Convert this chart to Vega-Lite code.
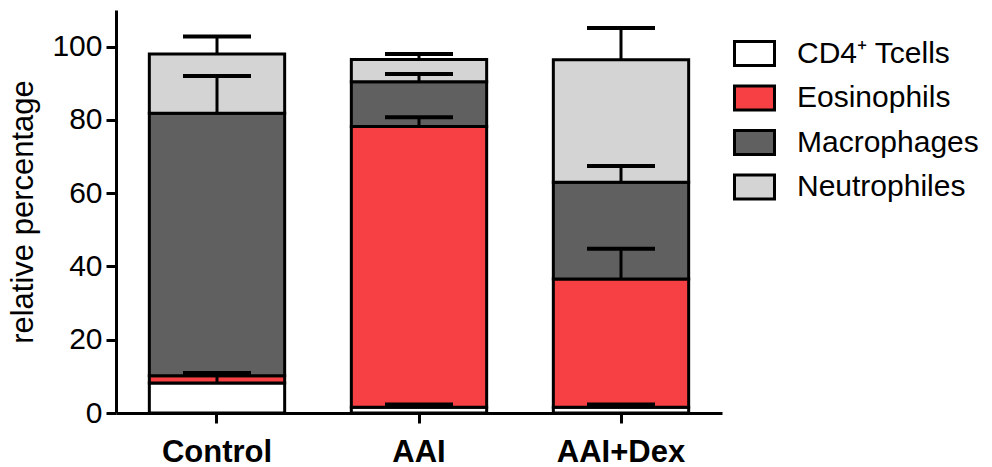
{
  "$schema": "https://vega.github.io/schema/vega-lite/v6.json",
  "autosize": {"type": "none"},
  "padding": {"left": 116, "top": 10, "right": 270, "bottom": 54},
  "width": 606,
  "height": 403,
  "background": "white",
  "config": {
    "view": {"stroke": null},
    "font": "Liberation Sans",
    "axis": {"domainColor": "black", "domainWidth": 3, "tickColor": "black", "tickWidth": 3, "tickSize": 10, "labelColor": "black", "titleColor": "black", "grid": false}
  },
  "data": {
    "values": [
      {"group": "Control", "cell": "CD4⁺ Tcells", "ord": 1, "value": 8.2, "upper": 10.4},
      {"group": "Control", "cell": "Eosinophils", "ord": 2, "value": 2.0, "upper": 10.9},
      {"group": "Control", "cell": "Macrophages", "ord": 3, "value": 71.6, "upper": 92.0},
      {"group": "Control", "cell": "Neutrophiles", "ord": 4, "value": 16.2, "upper": 102.8},
      {"group": "AAI", "cell": "CD4⁺ Tcells", "ord": 1, "value": 1.6, "upper": 2.3},
      {"group": "AAI", "cell": "Eosinophils", "ord": 2, "value": 76.6, "upper": 80.7},
      {"group": "AAI", "cell": "Macrophages", "ord": 3, "value": 12.2, "upper": 92.5},
      {"group": "AAI", "cell": "Neutrophiles", "ord": 4, "value": 6.1, "upper": 98.0},
      {"group": "AAI+Dex", "cell": "CD4⁺ Tcells", "ord": 1, "value": 1.6, "upper": 2.3},
      {"group": "AAI+Dex", "cell": "Eosinophils", "ord": 2, "value": 35.0, "upper": 44.8},
      {"group": "AAI+Dex", "cell": "Macrophages", "ord": 3, "value": 26.4, "upper": 67.4},
      {"group": "AAI+Dex", "cell": "Neutrophiles", "ord": 4, "value": 33.4, "upper": 105.1}
    ]
  },
  "transform": [
    {"stack": "value", "groupby": ["group"], "sort": [{"field": "ord", "order": "ascending"}], "as": ["y0", "y1"]}
  ],
  "encoding": {
    "x": {
      "field": "group", "type": "nominal", "sort": ["Control", "AAI", "AAI+Dex"],
      "scale": {"paddingInner": 0.33, "paddingOuter": 0.165},
      "axis": {"title": null, "labelAngle": 0, "labelFontSize": 31, "labelFontWeight": "bold", "labelPadding": 14, "domainWidth": 3}
    }
  },
  "layer": [
    {
      "mark": {"type": "bar", "stroke": "black", "strokeWidth": 3, "strokeJoin": "miter"},
      "encoding": {
        "y": {
          "field": "y0", "type": "quantitative",
          "scale": {"domain": [0, 110], "nice": false},
          "axis": {"title": "relative percentage", "titleFontSize": 31, "titleFontWeight": "normal", "titlePadding": 12, "labelFontSize": 30, "labelPadding": 4, "values": [0, 20, 40, 60, 80, 100]}
        },
        "y2": {"field": "y1"},
        "fill": {
          "field": "cell", "type": "nominal",
          "scale": {"domain": ["CD4⁺ Tcells", "Eosinophils", "Macrophages", "Neutrophiles"], "range": ["#ffffff", "#f74043", "#606060", "#d4d4d4"]},
          "legend": {
            "title": null, "orient": "none", "legendX": 617, "legendY": 22,
            "symbolType": "M-1,-0.6H1V0.6H-1Z", "symbolSize": 1600, "symbolStrokeColor": "black", "symbolStrokeWidth": 3, "symbolOpacity": 1,
            "labelFontSize": 30, "labelColor": "black", "labelOffset": 21, "rowPadding": 4.5, "labelLimit": 300
          }
        }
      }
    },
    {
      "mark": {"type": "rule", "color": "black", "strokeWidth": 3},
      "encoding": {
        "y": {"field": "y1", "type": "quantitative"},
        "y2": {"field": "upper"}
      }
    },
    {
      "mark": {"type": "tick", "color": "black", "opacity": 1, "thickness": 4, "size": 68, "orient": "horizontal"},
      "encoding": {
        "y": {"field": "upper", "type": "quantitative"}
      }
    }
  ]
}
